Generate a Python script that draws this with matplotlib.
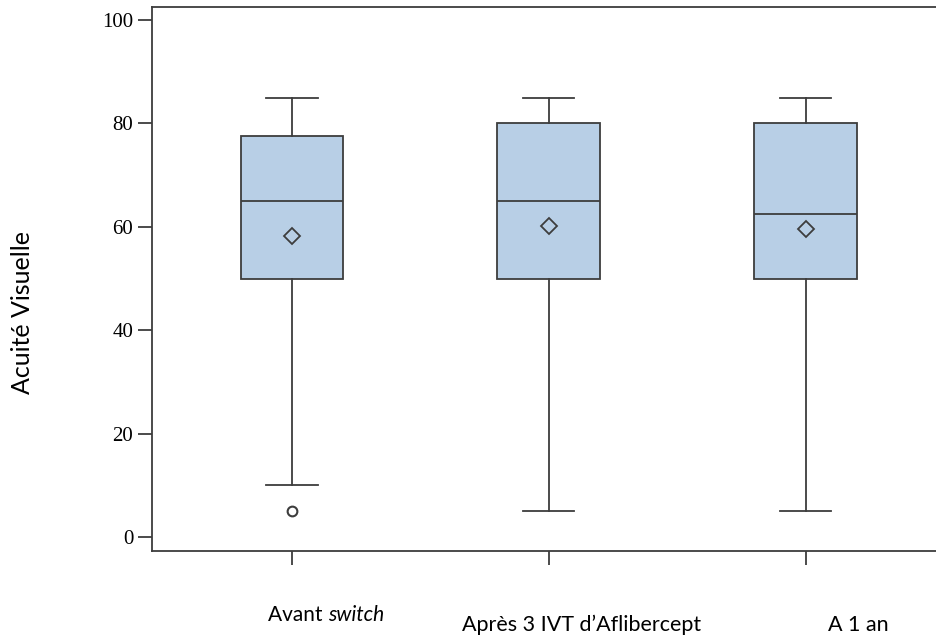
import matplotlib
matplotlib.use("Agg")
import matplotlib.pyplot as plt

# Summary statistics of visual acuity per time point
groups = ["Avant switch", "Après 3 IVT d’Aflibercept", "A 1 an"]
q1 = [50, 50, 50]
medians = [65, 65, 62.5]
q3 = [77.5, 80, 80]
whisker_low = [10, 5, 5]
whisker_high = [85, 85, 85]
means = [58.2, 60.2, 59.5]
outliers = [[5], [], []]

edge = "#3d3d3d"
fill = "#b8cfe6"

stats = []
for i in range(len(groups)):
    stats.append(dict(med=medians[i], q1=q1[i], q3=q3[i],
                      whislo=whisker_low[i], whishi=whisker_high[i],
                      mean=means[i], fliers=outliers[i], label=""))

fig = plt.figure(figsize=(9.37, 6.4), dpi=100)
ax = fig.add_axes([0.1622, 0.139, 0.847, 0.85])

ax.bxp(stats, positions=[1, 2, 3], widths=0.4, showmeans=True,
       patch_artist=True,
       boxprops=dict(facecolor=fill, edgecolor=edge, linewidth=1.3),
       medianprops=dict(color=edge, linewidth=1.3),
       whiskerprops=dict(color=edge, linewidth=1.3),
       capprops=dict(color=edge, linewidth=1.3),
       capwidths=0.2,
       meanprops=dict(marker="D", markerfacecolor="none", markeredgecolor=edge,
                      markersize=8, markeredgewidth=1.3),
       flierprops=dict(marker="o", markerfacecolor="none", markeredgecolor=edge,
                       markersize=7, markeredgewidth=1.5))

ax.set_xlim(0.455, 3.545)
ax.set_ylim(-2.7, 102.5)
ax.set_yticks([0, 20, 40, 60, 80, 100])
ax.set_xticks([1, 2, 3])
ax.set_xticklabels(["", "", ""])
for s in ax.spines.values():
    s.set_color(edge)
    s.set_linewidth(1.3)
ax.tick_params(direction="out", length=10, width=1.3, color=edge)
for lab in ax.get_yticklabels():
    lab.set_family("Liberation Serif")
    lab.set_fontsize(15)

# Category captions and axis title
fig.text(23 / 937, 1 - 312 / 640, "Acuité Visuelle", rotation=90,
         ha="center", va="center", family="Lato", fontsize=18)

# first caption: upright "Avant" followed by italic "switch"
word, term = groups[0].split(" ")
t1 = fig.text(268 / 937, 1 - 615 / 640, word + " ", ha="left", va="center",
              family="Lato", fontsize=15)
fig.canvas.draw()
w = t1.get_window_extent().width
fig.text((268 + w) / 937, 1 - 615 / 640, term, ha="left", va="center",
         family="Lato", style="italic", fontsize=15)

fig.text(582 / 937, 1 - 625 / 640, groups[1], ha="center", va="center",
         family="Lato", fontsize=15.5)
fig.text(858 / 937, 1 - 625 / 640, groups[2], ha="center", va="center",
         family="Lato", fontsize=15.5)

fig.savefig("out.png", dpi=100)
